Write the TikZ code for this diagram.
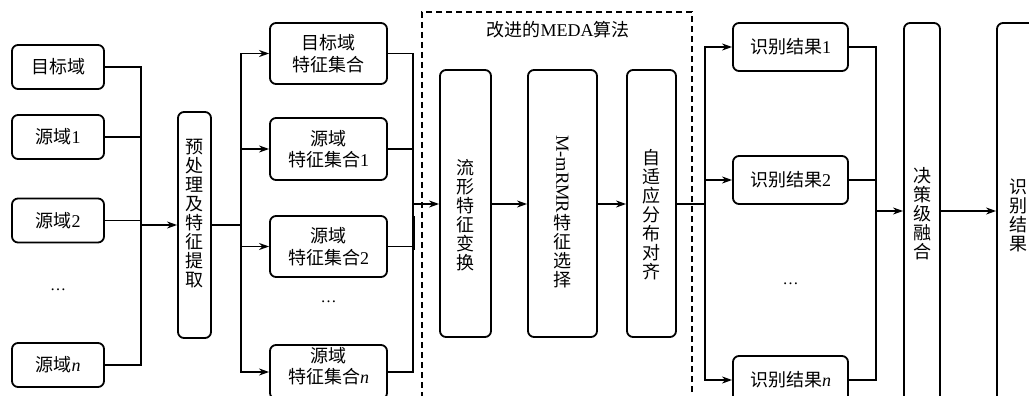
\documentclass[tikz,border=0pt]{standalone}
\usepackage{fontspec}
\usepackage{graphicx}
\setmainfont{Liberation Serif}
\newfontfamily\cjk{Noto Sans CJK SC}
\usetikzlibrary{arrows.meta}
\newcommand{\lat}[1]{{\rmfamily #1}}
\newcommand{\itn}{{\rmfamily\itshape n}}
\begin{document}
\begin{tikzpicture}[x=1pt,y=-1pt,
  box/.style={draw,line width=1.8pt,rounded corners=6pt,inner sep=0pt,align=center,
    font=\cjk\fontsize{18}{21.5}\selectfont},
  txt/.style={inner sep=0pt,align=center,font=\cjk\fontsize{18}{21.5}\selectfont},
  vtxt/.style={inner sep=0pt,align=center,font=\cjk\fontsize{18}{19}\selectfont},
  ln/.style={line width=1.8pt},
  arr/.style={line width=1.8pt,-{Stealth[length=10pt,width=7pt]}},
  dots/.style={inner sep=0pt,font=\rmfamily\fontsize{16}{16}\selectfont}]
\useasboundingbox (0,0) rectangle (1029,396);
\clip (0,0) rectangle (1029,396);
% left inputs
\node[box,minimum width=92pt,minimum height=44pt] (t0) at (58,67) {目标域};
\node[box,minimum width=92pt,minimum height=44pt] (s1) at (58,137) {源域\lat{1}};
\node[box,minimum width=92pt,minimum height=44pt] (s2) at (58,220.5) {源域\lat{2}};
\node[dots] (d1) at (58,290) {\ldots};
\node[box,minimum width=92pt,minimum height=44pt] (sn) at (58,365) {源域\itn};
\node[box,minimum width=33pt,minimum height=226pt] (pre) at (194.5,225) {};
\node[vtxt] (pret) at (194.5,213.5) {预\\处\\理\\及\\特\\征\\提\\取};
% feature sets
\node[box,minimum width=117pt,minimum height=61pt] (f0) at (328.5,53.5) {目标域\\特征集合};
\node[box,minimum width=117pt,minimum height=62pt] (f1) at (328.5,149) {源域\\特征集合\lat{1}};
\node[box,minimum width=117pt,minimum height=61pt] (f2) at (328.5,246.5) {源域\\特征集合\lat{2}};
\node[dots] (d2) at (328.5,302) {\ldots};
\node[box,minimum width=117pt,minimum height=54pt] (fn) at (328.5,372) {};
\node[txt] (fnt) at (328.5,366) {源域\\特征集合\itn};
% MEDA
\node[draw,line width=1.4pt,dash pattern=on 6pt off 4pt,minimum width=270pt,minimum height=420pt,inner sep=0pt] (meda) at (557,222) {};
\node[txt] (title) at (558,30) {改进的\lat{MEDA}算法};
\node[box,minimum width=51pt,minimum height=267pt] (m1) at (465.5,203.5) {};
\node[vtxt] (m1t) at (465.5,215) {流\\形\\特\\征\\变\\换};
\node[box,minimum width=69pt,minimum height=267pt] (m2) at (562.5,203.5) {};
\node[vtxt] (m2t) at (562.5,211.5) {\rotatebox{-90}{\lat{\fontsize{18.5}{18.5}\selectfont M-mRMR}}\\特\\征\\选\\择};
\node[box,minimum width=49pt,minimum height=267pt] (m3) at (651.5,203.5) {};
\node[vtxt] (m3t) at (651.5,215) {自\\适\\应\\分\\布\\对\\齐};
% results
\node[box,minimum width=115pt,minimum height=48pt] (r1) at (790.5,47) {识别结果\lat{1}};
\node[box,minimum width=115pt,minimum height=48pt] (r2) at (790.5,180) {识别结果\lat{2}};
\node[dots] (d3) at (790.5,284) {\ldots};
\node[box,minimum width=115pt,minimum height=48pt] (rn) at (790.5,380) {识别结果\itn};
\node[box,minimum width=36pt,minimum height=384pt] (dec) at (922,215) {};
\node[vtxt] (dect) at (922,214) {决\\策\\级\\融\\合};
\node[box,minimum width=42pt,minimum height=384pt] (out) at (1018,215) {};
\node[vtxt] (outt) at (1018,215) {识\\别\\结\\果};
% connectors
\coordinate (b1) at (141,225);
\coordinate (b2) at (241,225);
\coordinate (b3) at (413,204);
\coordinate (b4) at (705,204);
\coordinate (b5) at (876,211);
\foreach \n in {t0,s1,s2,sn} \draw[ln] (\n.east) -| (b1);
\draw[arr] (b1) -- (b1 -| pre.west);
\draw[ln] (b2 -| pre.east) -- (b2);
\foreach \n in {f0,f1,f2,fn} \draw[arr] (b2) |- (\n.west);
\foreach \n in {f0,f1,f2,fn} \draw[ln] (\n.east) -| (b3);
\draw[line width=3pt] (413,216) -- (413,250);
\draw[arr] (b3) -- (b3 -| m1.west);
\draw[arr] (m1.east |- b3) -- (m2.west |- b3);
\draw[arr] (m2.east |- b3) -- (m3.west |- b3);
\draw[ln] (m3.east |- b4) -- (b4);
\foreach \n in {r1,r2,rn} \draw[arr] (b4) |- (\n.west);
\foreach \n in {r1,r2,rn} \draw[ln] (\n.east) -| (b5);
\draw[arr] (b5) -- (b5 -| dec.west);
\draw[arr] (dec.east |- b5) -- (out.west |- b5);
\end{tikzpicture}
\end{document}
